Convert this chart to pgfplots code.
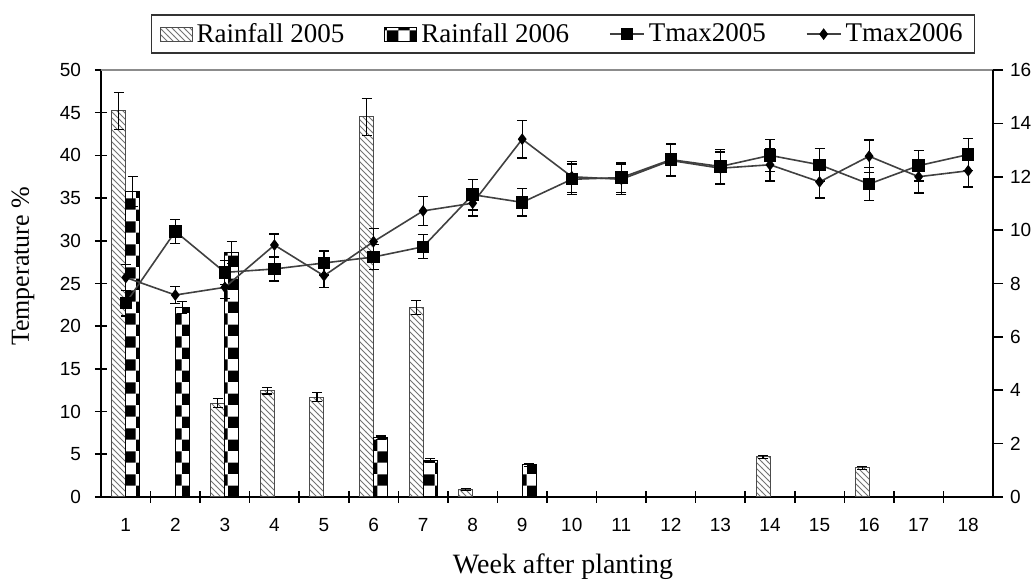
\documentclass[border=0pt]{standalone}
\usepackage{fontspec}
\setmainfont{Liberation Serif}
\newfontfamily\sansf{Liberation Sans}
\usepackage{pgfplots}
\usepackage{pgfplotstable}
\pgfplotsset{compat=1.18}
\usetikzlibrary{patterns}

\pgfplotsset{
  myerr/.style={error bars/.cd, y dir=both, y explicit,
    error bar style={black, line width=0.6pt},
    error mark options={rotate=90, black, mark size=2.5pt, line width=0.6pt}},
}

% Rainfall (plotted on the left scale)
\pgfplotstableread{
week val err
1 45.2 2.2
3 11.0 0.5
4 12.45 0.4
5 11.7 0.5
6 44.5 2.2
7 22.2 0.8
8 0.9 0.1
14 4.7 0.2
16 3.4 0.15
}\rainA
\pgfplotstableread{
week val err
1 35.75 1.75
2 22.2 0.7
3 28.6 1.3
6 6.95 0.2
7 4.3 0.2
9 3.75 0.2
}\rainB
\pgfplotstableread{
week val err
1 22.7 1.5
2 31.1 1.4
3 26.3 1.4
4 26.7 1.4
5 27.4 1.4
6 28.1 1.5
7 29.3 1.4
8 35.4 1.8
9 34.5 1.6
10 37.2 1.8
11 37.4 1.7
12 39.5 1.9
13 38.7 2.0
14 40.0 1.9
15 38.9 1.9
16 36.65 1.9
17 38.8 1.8
18 40.1 1.9
}\tmaxA
\pgfplotstableread{
week val err
1 25.7 1.5
2 23.65 1.0
3 24.55 1.3
4 29.5 1.3
5 25.9 1.4
6 29.9 1.5
7 33.5 1.7
8 34.4 1.5
9 41.9 2.2
10 37.5 1.8
11 37.2 1.8
12 39.4 1.9
13 38.5 1.9
14 38.9 1.9
15 36.9 1.9
16 39.9 1.9
17 37.5 1.9
18 38.2 1.9
}\tmaxB

\begin{document}
\begin{tikzpicture}
\begin{axis}[
  name=ax,
  scale only axis, width=446pt, height=213.5pt,
  xmin=0.5, xmax=18.5, ymin=0, ymax=50,
  axis x line*=bottom, axis y line*=left,
  axis line style={black, line width=0.9pt},
  ytick={0,5,...,50}, ytick align=center,
  major tick length=6pt,
  xtick={1.5,2.5,...,17.5}, xticklabels={},
  extra x ticks={1,2,...,18},
  extra x tick labels={1,2,3,4,5,6,7,8,9,10,11,12,13,14,15,16,17,18},
  extra x tick style={major tick length=0pt},
  xtick align=center,
  tick style={black, line width=0.8pt},
  ticklabel style={font=\sansf\fontsize{9.5}{10}\selectfont},
  xticklabel style={yshift=-7pt},
  yticklabel style={xshift=-3.5pt},
  /pgf/number format/assume math mode=true,
  ylabel={Temperature \%},
  xlabel={Week after planting},
  every axis y label/.style={at={([xshift=-39pt]axis description cs:0,0.54)}, rotate=90, anchor=center, font=\fontsize{13}{15}\selectfont},
  every axis x label/.style={at={([xshift=8pt,yshift=-35pt]axis description cs:0.5,0)}, anchor=center, font=\fontsize{14}{16}\selectfont},
  legend columns=4,
  legend style={at={(0.518,1)}, anchor=south, yshift=8pt, draw=black!80, line width=0.8pt,
    font=\fontsize{13.5}{15}\selectfont, inner xsep=4pt, inner ysep=2pt,
    /tikz/every even column/.append style={column sep=18pt}},
  legend cell align=left,
]
\addplot[ybar, bar width=7pt, bar shift=0pt, draw=black!70, line width=0.5pt,
  pattern=north west lines, pattern color=black!55,
  legend image code/.code={\draw[draw=black!70, line width=0.5pt, pattern=north west lines, pattern color=black!55] (0pt,-3.5pt) rectangle (16pt,3.5pt);},
  myerr]
  table[x expr=\thisrow{week}-0.1413, y=val, y error=err] {\rainA};
\addlegendentry{Rainfall 2005}
\addplot[ybar, bar width=7pt, bar shift=0pt, draw=black, line width=0.5pt,
  pattern=checkerboard, pattern color=black,
  legend image code/.code={\draw[draw=black, line width=0.5pt, pattern=checkerboard, pattern color=black] (0pt,-3.5pt) rectangle (16pt,3.5pt);},
  myerr]
  table[x expr=\thisrow{week}+0.1413, y=val, y error=err] {\rainB};
\addlegendentry{Rainfall 2006}
\addplot[color=black!75, line width=0.8pt, mark=square*, mark size=2.7pt,
  mark options={fill=black, draw=black, solid}, myerr]
  table[x=week, y=val, y error=err] {\tmaxA};
\addlegendentry{Tmax2005}
\addplot[color=black!75, line width=0.8pt, mark=diamond*, mark size=2.3pt,
  mark options={fill=black, draw=black, solid}, myerr]
  table[x=week, y=val, y error=err] {\tmaxB};
\addlegendentry{Tmax2006}
\end{axis}
\begin{axis}[
  scale only axis, width=446pt, height=213.5pt,
  xmin=0.5, xmax=18.5, ymin=0, ymax=16,
  axis y line*=right, axis x line*=top,
  xtick=\empty, ytick={0,2,...,16},
  y axis line style={black, line width=0.9pt},
  x axis line style={black!45, line width=0.8pt},
  ytick align=outside, major tick length=5pt,
  tick style={black, line width=0.8pt},
  ticklabel style={font=\sansf\fontsize{9.5}{10}\selectfont},
  /pgf/number format/assume math mode=true,
]
\end{axis}
\pgfresetboundingbox
\path ([xshift=-50.5pt,yshift=-45.5pt]ax.south west) rectangle ([xshift=19pt,yshift=35pt]ax.north east);
\end{tikzpicture}
\end{document}
